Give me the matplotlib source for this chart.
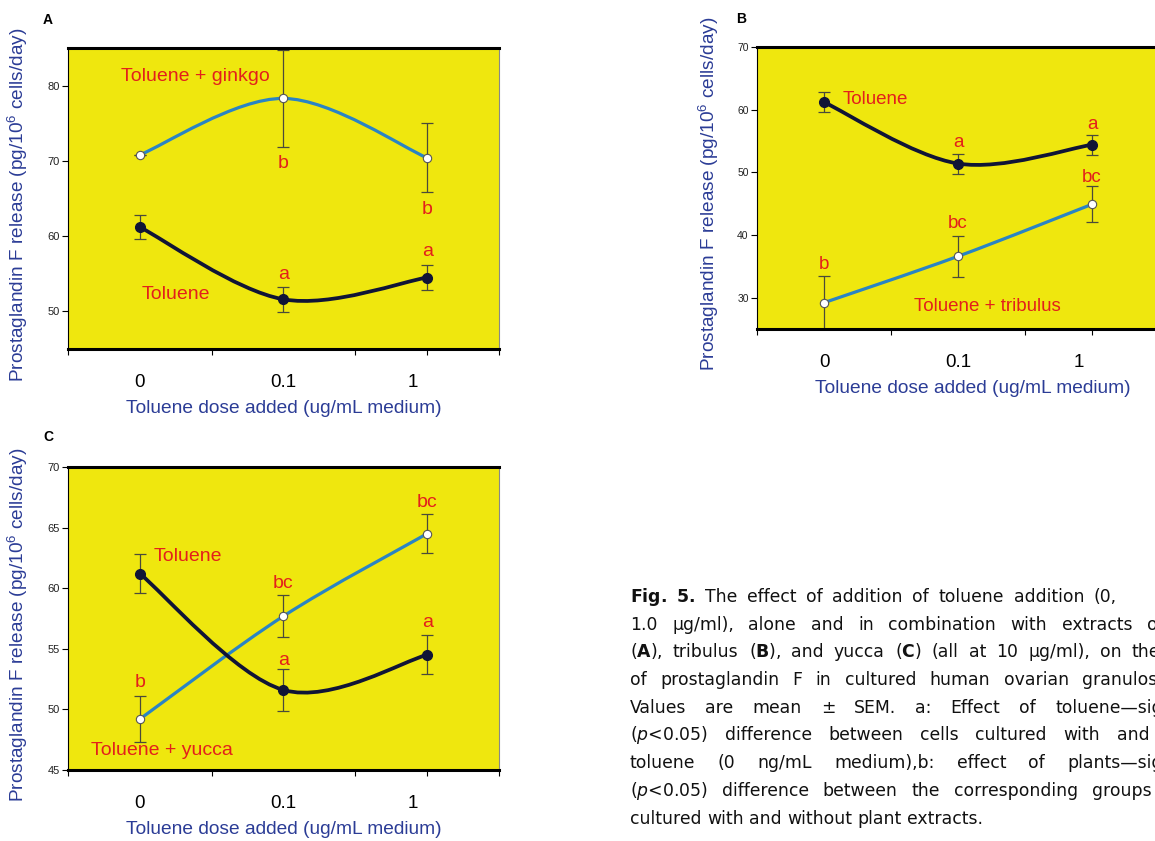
import matplotlib
matplotlib.use('Agg')
import matplotlib.pyplot as plt
import numpy as np
from matplotlib.path import Path
from matplotlib.patches import PathPatch

plt.rcParams['font.family'] = ['Liberation Sans', 'DejaVu Sans']
plt.rcParams['mathtext.fontset'] = 'custom'
plt.rcParams['mathtext.rm'] = 'Liberation Sans'
plt.rcParams['mathtext.it'] = 'Liberation Sans:italic'
plt.rcParams['mathtext.bf'] = 'Liberation Sans:bold'

# dose groups (x categories)
doses = ['0', '0.1', '1']

# A: toluene alone vs toluene + ginkgo
tol_a = [61.2, 51.6, 54.5]
tol_a_err = [1.6, 1.65, 1.6]
gink = [70.8, 78.3, 70.4]
gink_err = [0, 6.5, 4.6]

# B: toluene alone vs toluene + tribulus
tol_b = [61.2, 51.4, 54.4]
tol_b_err = [1.6, 1.6, 1.6]
trib = [29.2, 36.6, 44.9]
trib_err = [4.3, 3.3, 2.9]

# C: toluene alone vs toluene + yucca
tol_c = [61.2, 51.6, 54.5]
tol_c_err = [1.6, 1.7, 1.6]
yucca = [49.2, 57.7, 64.5]
yucca_err = [1.9, 1.7, 1.6]

YELLOW = '#EFE70E'
RED = '#E3201B'
LBLUE = '#2B3C96'
LINE_BLUE = '#2A84C4'
NAVY = '#101436'
ERR = '#4a4a3a'

W, H = 1155, 841
fig = plt.figure(figsize=(W / 100, H / 100), dpi=100)


def smooth_line(ax, y, color, lw):
    # smoothed line through the points (cubic bezier, like SigmaPlot)
    x = np.arange(len(y), dtype=float)
    pts = np.column_stack([x, y])
    ext = np.vstack([pts[0], pts, pts[-1]])
    verts = [pts[0]]
    codes = [Path.MOVETO]
    for i in range(len(pts) - 1):
        p0, p1, p2, p3 = ext[i], ext[i + 1], ext[i + 2], ext[i + 3]
        verts += [p1 + (p2 - p0) / 6, p2 - (p3 - p1) / 6, p2]
        codes += [Path.CURVE4] * 3
    ax.add_patch(PathPatch(Path(verts, codes), fill=False, ec=color, lw=lw,
                           zorder=3, capstyle='round'))


def panel(rect, tol, tol_err, mix, mix_err, ylim, yticks, ytick_size,
          xlab_x, label_y):
    ax = fig.add_axes(rect)
    ax.set_facecolor(YELLOW)
    x = np.arange(len(doses))
    ax.errorbar(x, tol, yerr=tol_err, fmt='none', ecolor=ERR, elinewidth=0.9,
                capsize=4, capthick=0.9, zorder=2)
    ax.errorbar(x, mix, yerr=mix_err, fmt='none', ecolor=ERR, elinewidth=0.9,
                capsize=4, capthick=0.9, zorder=2)
    smooth_line(ax, mix, LINE_BLUE, 2.3)
    smooth_line(ax, tol, NAVY, 2.7)
    ax.plot(x, tol, 'o', ms=7, mfc=NAVY, mec=NAVY, zorder=5)
    ax.plot(x, mix, 'o', ms=6, mfc='white', mec='#555555', mew=0.8, zorder=5)

    ax.set_xlim(-0.5, 2.5)
    ax.set_ylim(*ylim)
    ax.set_yticks(yticks)
    ax.tick_params(axis='y', direction='out', length=4, width=0.8,
                   labelsize=ytick_size, pad=2, labelcolor='#222222')
    ax.set_xticks([0, 1, 1.9])
    ax.set_xticklabels(doses)
    ax.set_xticks(np.arange(-0.5, 2.6, 0.5), minor=True)
    ax.tick_params(axis='x', which='major', length=0, pad=18, labelsize=13.5)
    ax.tick_params(axis='x', which='minor', direction='out', length=4, width=0.8)
    for s in ['top', 'bottom']:
        ax.spines[s].set_linewidth(2.2)
    ax.spines['left'].set_linewidth(0.8)
    ax.spines['right'].set_linewidth(0.8)
    ax.spines['right'].set_color('#888888')

    ax.set_xlabel('Toluene dose added (ug/mL medium)', fontsize=13.8, color=LBLUE)
    ax.xaxis.set_label_coords(xlab_x, label_y)
    ax.set_ylabel(r'Prostaglandin F release (pg/10$^6$ cells/day)',
                  fontsize=13.7, color=LBLUE)
    ax.yaxis.set_label_coords(-0.088, 0.478)
    return ax


def px_rect(left, top, right, bottom):
    return [left / W, 1 - bottom / H, (right - left) / W, (bottom - top) / H]


def note(ax, x, y, s, ha='center', size=14):
    ax.text(x, y, s, color=RED, fontsize=size, ha=ha, va='center', zorder=6)


# ---- A ----
ax_a = panel(px_rect(68, 48, 499, 349), tol_a, tol_a_err, gink, gink_err,
             (45, 85), [50, 60, 70, 80], 8, 0.5, -0.17)
note(ax_a, -0.133, 81.2, 'Toluene + ginkgo', ha='left')
note(ax_a, 0.014, 52.3, 'Toluene', ha='left')
note(ax_a, 1, 69.6, 'b')
note(ax_a, 2, 63.6, 'b')
note(ax_a, 1, 54.9, 'a')
note(ax_a, 2, 58.0, 'a')

# ---- B ----
ax_b = panel(px_rect(757, 47, 1159, 329), tol_b, tol_b_err, trib, trib_err,
             (25, 70), [30, 40, 50, 60, 70], 7.5, 0.537, -0.18)
ax_b.yaxis.set_label_coords(-0.09, 0.479)
note(ax_b, 0.141, 61.6, 'Toluene', ha='left', size=13.5)
note(ax_b, 0.669, 28.6, 'Toluene + tribulus', ha='left', size=13.5)
note(ax_b, 1, 54.7, 'a', size=13.5)
note(ax_b, 2, 57.6, 'a', size=13.5)
note(ax_b, 1, 41.8, 'bc', size=13.5)
note(ax_b, 2, 49.2, 'bc', size=13.5)
note(ax_b, 0, 35.3, 'b', size=13.5)

# ---- C ----
ax_c = panel(px_rect(68, 467, 499, 770), tol_c, tol_c_err, yucca, yucca_err,
             (45, 70), [45, 50, 55, 60, 65, 70], 8, 0.5, -0.168)
note(ax_c, 0.097, 62.6, 'Toluene', ha='left')
note(ax_c, -0.34, 46.6, 'Toluene + yucca', ha='left')
note(ax_c, 2, 67.1, 'bc')
note(ax_c, 1, 60.4, 'bc')
note(ax_c, 2, 57.2, 'a')
note(ax_c, 1, 54.0, 'a')
note(ax_c, 0, 52.2, 'b')

# panel letters
for s, (px, py) in {'A': (48, 20), 'B': (741, 19), 'C': (48, 437)}.items():
    fig.text(px / W, 1 - py / H, s, fontsize=10, fontweight='bold',
             ha='center', va='center')

# ---- caption (justified, cropped on the right like the source) ----
cap_lines = [
    r'$\mathbf{Fig.}$ $\mathbf{5.}$ The effect of addition of toluene addition (0,',
    '1.0 μg/ml), alone and in combination with extracts of',
    r'($\mathbf{A}$), tribulus ($\mathbf{B}$), and yucca ($\mathbf{C}$) (all at 10 μg/ml), on the',
    'of prostaglandin F in cultured human ovarian granulosa',
    'Values are mean ± SEM. a: Effect of toluene—significant',
    r'($p$<0.05) difference between cells cultured with and',
    'toluene (0 ng/mL medium),b: effect of plants—significant',
    r'($p$<0.05) difference between the corresponding groups',
    'cultured with and without plant extracts.',
]
# x (px) where the last visible word of each justified line starts
cap_last_x = [1094, 1147, 1132, 1082, 1055, 1117, 1067, 1092, None]
cap_x0 = 630
cap_size = 12.4

fig.canvas.draw()
renderer = fig.canvas.get_renderer()
t1 = fig.text(0, 0, 'x x', fontsize=cap_size, family='DejaVu Sans')
t2 = fig.text(0, 0, 'xx', fontsize=cap_size, family='DejaVu Sans')
space_w = t1.get_window_extent(renderer).width - t2.get_window_extent(renderer).width
t1.remove()
t2.remove()

for i, line in enumerate(cap_lines):
    words = line.split(' ')
    y = 1 - (602 + i * 27.7) / H
    objs = [fig.text(0, y, w, fontsize=cap_size, family='DejaVu Sans',
                     math_fontfamily='dejavusans', va='baseline', color='#111111')
            for w in words]
    widths = [o.get_window_extent(renderer).width for o in objs]
    if cap_last_x[i] is None:
        gap = space_w
    else:
        gap = (cap_last_x[i] - cap_x0 - sum(widths[:-1])) / (len(words) - 1)
    xx = cap_x0
    for o, w in zip(objs, widths):
        o.set_x(xx / W)
        xx += w + gap

fig.savefig('out.png', dpi=100)
